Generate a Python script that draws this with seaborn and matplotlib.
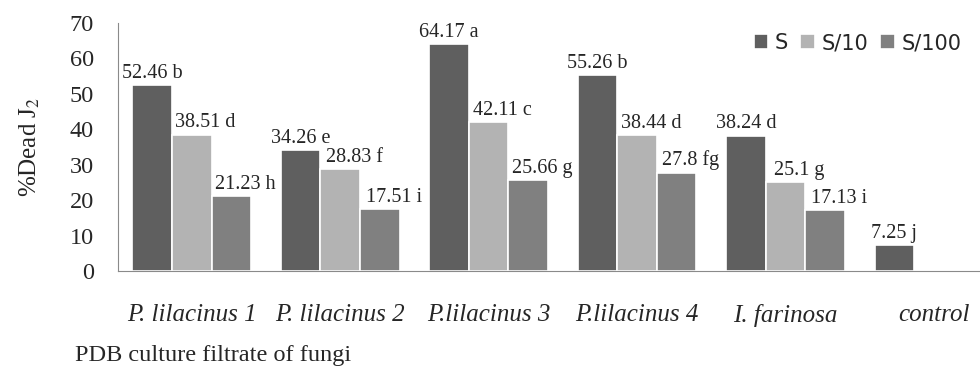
import pandas as pd
import matplotlib
matplotlib.use("Agg")
import matplotlib.pyplot as plt
import seaborn as sns

# Dados
fungi = ["P. lilacinus 1", "P. lilacinus 2", "P.lilacinus 3", "P.lilacinus 4", "I. farinosa", "control"]
doses = ["S", "S/10", "S/100"]
dead_s = [52.46, 34.26, 64.17, 55.26, 38.24, 7.25]
dead_s10 = [38.51, 28.83, 42.11, 38.44, 25.1, None]
dead_s100 = [21.23, 17.51, 25.66, 27.8, 17.13, None]
letters_s = ["b", "e", "a", "b", "d", "j"]
letters_s10 = ["d", "f", "c", "d", "g", None]
letters_s100 = ["h", "i", "g", "fg", "i", None]

rows = []
for dose, vals, lets in zip(doses, [dead_s, dead_s10, dead_s100],
                            [letters_s, letters_s10, letters_s100]):
    for f, v, l in zip(fungi, vals, lets):
        if v is not None:
            rows.append({"Fungo": f, "Dose": dose, "Dead": v, "Letra": l})
df = pd.DataFrame(rows)

sns.set_style("white")
plt.rcParams["font.family"] = ["Liberation Serif", "DejaVu Serif"]
plt.rcParams["mathtext.fontset"] = "stix"

palette = {"S": "#5f5f5f", "S/10": "#b3b3b3", "S/100": "#808080"}

fig = plt.figure(figsize=(9.8, 3.67), dpi=100)
ax = fig.add_axes([0.1199, 0.2616, 0.8801, 0.6757])

sns.barplot(data=df, x="Fungo", y="Dead", hue="Dose", order=fungi, hue_order=doses,
            palette=palette, width=0.8, edgecolor="white", linewidth=1.2,
            saturation=1, ax=ax)

ax.set_ylim(0, 70)
ax.set_yticks(range(0, 71, 10))
ax.set_xlim(-0.5, 5.31)

# Rótulos de valor + letra
for dose, container in zip(doses, ax.containers):
    sub = df[df["Dose"] == dose].set_index("Fungo")
    for bar in container:
        idx = int(round(bar.get_x() + bar.get_width() / 2))
        row = sub.loc[fungi[idx]]
        dx = 0 if dose == "S" else 10
        ax.annotate(f"{row['Dead']:g} {row['Letra']}",
                    (bar.get_x() + bar.get_width() / 2, bar.get_height()),
                    xytext=(dx, 1.5), textcoords="offset points",
                    ha="center", va="bottom", fontsize=14.5)

ax.set_xlabel("")
ax.set_ylabel("%Dead J$_2$", fontsize=18, labelpad=20)
ax.tick_params(axis="y", labelsize=17.5, length=0, pad=17)
ax.tick_params(axis="x", length=0, pad=24)
for lab in ax.get_xticklabels():
    lab.set_fontstyle("italic")
    lab.set_fontsize(18)

for side in ["top", "right"]:
    ax.spines[side].set_visible(False)
ax.spines["left"].set_color("#8a8a8a")
ax.spines["bottom"].set_color("#8a8a8a")
ax.spines["left"].set_linewidth(0.8)
ax.spines["bottom"].set_linewidth(0.8)

fig.text(75 / 980, 1 / 367, "PDB culture filtrate of fungi", fontsize=17.5,
         ha="left", va="bottom")

leg = ax.legend(loc="upper right", bbox_to_anchor=(1.0, 1.035), ncol=3, frameon=False,
                prop={"family": "DejaVu Sans", "size": 15}, handlelength=0.7,
                handleheight=0.7, handletextpad=0.3, columnspacing=0.6)

fig.savefig("out.png", dpi=100)
